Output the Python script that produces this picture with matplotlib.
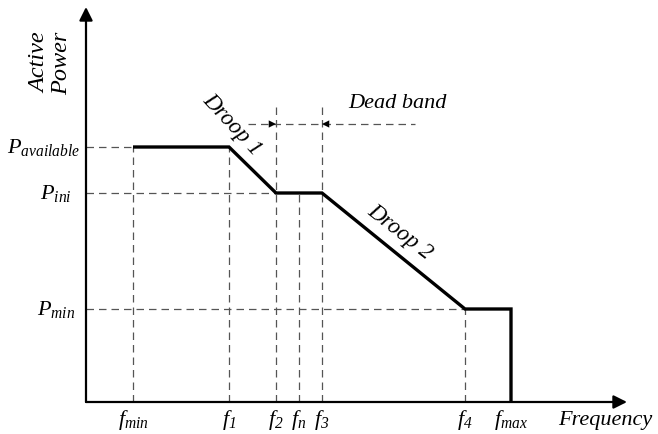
import matplotlib
matplotlib.use("Agg")
import matplotlib.pyplot as plt

plt.rcParams['font.family'] = ['Liberation Serif', 'DejaVu Serif']
plt.rcParams['mathtext.fontset'] = 'custom'
plt.rcParams['mathtext.it'] = 'Liberation Serif:italic'
plt.rcParams['mathtext.rm'] = 'Liberation Serif:italic'

# frequency break points (axis units) and their labels
freq_names = ['f_min', 'f1', 'f2', 'fn', 'f3', 'f4', 'f_max']
freq_vals = [47, 143, 190, 213, 236, 379, 425]
freq_labels = [r'$f_{min}$', r'$f_1$', r'$f_2$', r'$f_n$', r'$f_3$', r'$f_4$', r'$f_{max}$']
f = dict(zip(freq_names, freq_vals))

# power levels
power_names = ['P_available', 'P_ini', 'P_min']
power_vals = [255, 209, 93]
power_labels = [r'$P_{available}$', r'$P_{ini}$', r'$P_{min}$']
p = dict(zip(power_names, power_vals))

# droop characteristic
curve_f = [f['f_min'], f['f1'], f['f2'], f['f3'], f['f4'], f['f_max'], f['f_max']]
curve_p = [p['P_available'], p['P_available'], p['P_ini'], p['P_ini'], p['P_min'], p['P_min'], 0]

dead_band_y = 278
x_end, y_end = 541, 395

fig = plt.figure(figsize=(6.58, 4.34), dpi=100)
ax = fig.add_axes([0, 0, 1, 1])
ax.set_xlim(-86, 572)
ax.set_ylim(-32, 402)
ax.set_axis_off()

dash = dict(color='#555555', lw=0.9, dashes=(6, 4))

# horizontal guides
ax.plot([0, f['f_min']], [p['P_available']] * 2, **dash)
ax.plot([0, f['f2']], [p['P_ini']] * 2, **dash)
ax.plot([0, f['f4']], [p['P_min']] * 2, **dash)

# vertical guides
ax.plot([f['f_min']] * 2, [0, p['P_available']], **dash)
ax.plot([f['f1']] * 2, [0, p['P_available']], **dash)
ax.plot([f['f2']] * 2, [0, 297], **dash)
ax.plot([f['fn']] * 2, [0, p['P_ini']], **dash)
ax.plot([f['f3']] * 2, [0, 297], **dash)
ax.plot([f['f4']] * 2, [0, p['P_min']], **dash)

# dead band marker
ax.plot([162, 329], [dead_band_y] * 2, **dash)
ax.annotate('', xy=(f['f2'], dead_band_y), xytext=(f['f2'] - 14, dead_band_y),
            arrowprops=dict(arrowstyle='-|>', lw=0.01, color='k', mutation_scale=13, shrinkA=0, shrinkB=0))
ax.annotate('', xy=(f['f3'], dead_band_y), xytext=(f['f3'] + 14, dead_band_y),
            arrowprops=dict(arrowstyle='-|>', lw=0.01, color='k', mutation_scale=13, shrinkA=0, shrinkB=0))

# curve
ax.plot(curve_f, curve_p, color='k', lw=2.4, solid_joinstyle='miter', solid_capstyle='butt')

# axes with arrows
ax.annotate('', xy=(0, y_end), xytext=(0, 0),
            arrowprops=dict(arrowstyle='-|>', lw=1.6, color='k', mutation_scale=20, shrinkA=0, shrinkB=0))
ax.annotate('', xy=(x_end, 0), xytext=(0, 0),
            arrowprops=dict(arrowstyle='-|>', lw=1.6, color='k', mutation_scale=20, shrinkA=0, shrinkB=0))

# tick labels
for x, lab in zip(freq_vals, freq_labels):
    ax.text(x, -18, lab, ha='center', va='center', fontsize=16)
label_x = [-6, -14, -11]
for y, lab, lx in zip(power_vals, power_labels, label_x):
    ax.text(lx, y, lab, ha='right', va='center', fontsize=16)

ax.text(-35, 339, 'Active\nPower', rotation=90, ha='center', va='center',
        fontsize=17.5, style='italic', linespacing=1.05)
ax.text(472, -18, 'Frequency', ha='left', va='center', fontsize=16, style='italic')
ax.text(311, 299, 'Dead band', ha='center', va='center', fontsize=16, style='italic')
ax.text(146, 277, 'Droop 1', ha='center', va='center', fontsize=16.5, style='italic', rotation=-47)
ax.text(314, 170, 'Droop 2', ha='center', va='center', fontsize=16.5, style='italic', rotation=-38)

fig.savefig('out.png', dpi=100)
